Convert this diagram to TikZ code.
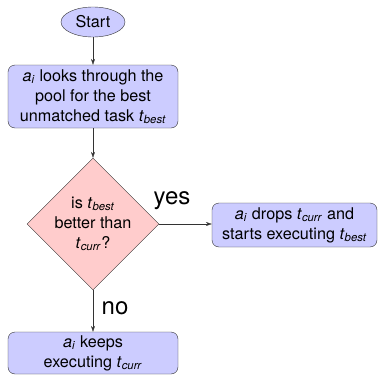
\documentclass[tikz,border=0pt]{standalone}
\usepackage{fontspec}
\setmainfont{TeX Gyre Heros}
\usetikzlibrary{shapes.geometric,arrows.meta}
\newcommand\tv[2]{\textit{#1}\textsubscript{\textit{#2}}}
\begin{document}
\begin{tikzpicture}[x=1pt,y=-1pt,
  every node/.style={font=\fontsize{16.2}{20}\selectfont},
  proc/.style={draw=black!80, fill=blue!20, rounded corners=7pt, align=center, inner sep=1pt},
  startnode/.style={draw=black!80, fill=blue!20, ellipse, minimum width=64pt, minimum height=30pt, inner sep=0pt},
  decision/.style={draw=black!80, fill=red!20, diamond, aspect=1, minimum size=132pt, inner sep=0pt, align=center},
  conn/.style={draw=black!80, -{Stealth[length=6pt,width=4pt]}},
  lbl/.style={font=\fontsize{24}{26}\selectfont}]
\useasboundingbox (0,0) rectangle (378,375);
\node[startnode] (start) at (93,22) {Start};
\node[proc, minimum width=170pt, minimum height=63pt] (look) at (93,96.5)
  {\tv{a}{i} looks through the\\pool for the best\\unmatched task \tv{t}{best}};
\node[decision] (dec) at (93,224) {is \tv{t}{best}\\better than\\\tv{t}{curr}?};
\node[proc, minimum width=165pt, minimum height=44pt] (drop) at (294.5,225)
  {\tv{a}{i} drops \tv{t}{curr} and\\starts executing \tv{t}{best}};
\node[proc, minimum width=170pt, minimum height=42pt] (keep) at (93,353)
  {\tv{a}{i} keeps\\executing \tv{t}{curr}};
\draw[conn] (start) -- (look);
\draw[conn] (look) -- (dec);
\draw[conn] (dec.east) -- (drop.west |- dec.east);
\draw[conn] (dec.south) -- (keep);
\node[lbl] (yes) at (172,201) {yes};
\node[lbl] (no) at (115,308) {no};
\end{tikzpicture}
\end{document}
